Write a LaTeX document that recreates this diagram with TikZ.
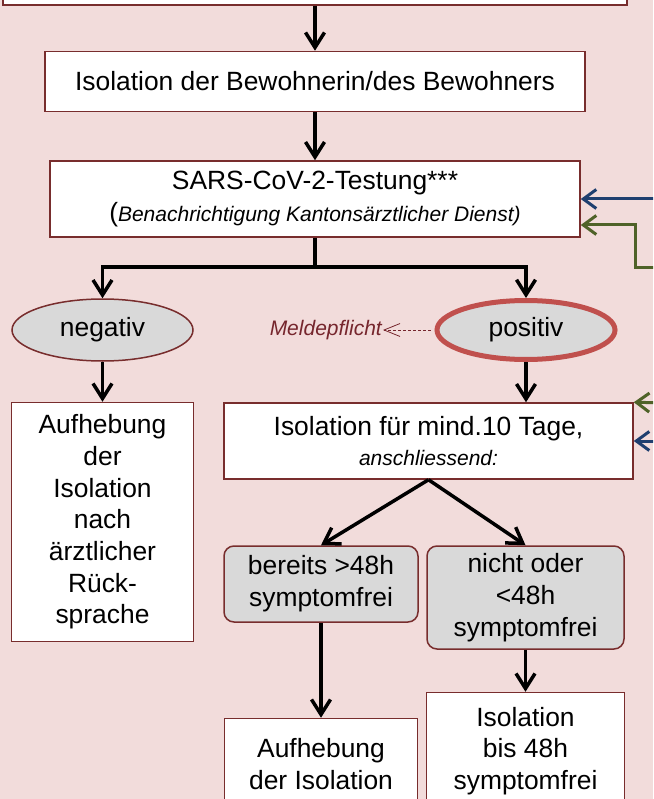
\documentclass[tikz,border=0pt]{standalone}
\usepackage{fontspec}
\setmainfont{Liberation Sans}
\usepackage{tikz}
\usetikzlibrary{positioning}
\usetikzlibrary{arrows.meta}
\usetikzlibrary{shapes.geometric}
\usepackage{color}
\definecolor{Rose-0}{RGB}{242,220,219}
\definecolor{Rose-6}{RGB}{192,80,77}
\definecolor{Rose-8}{RGB}{120,45,45}
\definecolor{Rose-9}{RGB}{118,38,45}
\definecolor{Grey-2}{RGB}{217,217,217}
\definecolor{Navy-8}{RGB}{31,63,111}
\definecolor{Olive-8}{RGB}{79,98,40}

\newcommand{\bigtxt}{\fontsize{26.4pt}{31.7pt}\selectfont}
\newcommand{\smalltxt}{\fontsize{21pt}{25pt}\selectfont}

\begin{document}
\begin{tikzpicture}[x=1pt, y=-1pt]
    \tikzset{ box/.style ={draw=Rose-8, line width=1.5pt, fill=white, font=\bigtxt, align=center, inner sep=0pt} }
    \tikzset{ opt/.style ={draw=Rose-8, line width=1.5pt, fill=Grey-2, rounded corners=10pt, font=\bigtxt, align=center, inner sep=0pt} }
    \tikzset{ res/.style ={draw=Rose-8, line width=1.5pt, fill=Grey-2, ellipse, font=\bigtxt, inner sep=0pt} }
    \tikzset{ flw/.style ={black, line width=3.5pt, -{Straight Barb[length=15pt,width=19pt]}} }
    \tikzset{ blu/.style ={Navy-8, line width=3pt, -{Straight Barb[length=13pt,width=19pt]}} }
    \tikzset{ grn/.style ={Olive-8, line width=3pt, -{Straight Barb[length=13pt,width=19pt]}} }
    \tikzset{ mld/.style ={Rose-9, line width=0.8pt, densely dashed, -{Straight Barb[length=16pt,width=13pt]}} }

    \useasboundingbox (0,0) rectangle (653,799);
    \clip (0,0) rectangle (653,799);
    \fill[Rose-0] (0,0) rectangle (653,799);

    \node[box, minimum width=624pt, minimum height=60pt] (s0) at (315,-25) {};
    \node[box, minimum width=540pt, minimum height=60pt, below=45pt of s0] (s1) {Isolation der Bewohnerin/des Bewohners};
    \node[box, minimum width=530pt, minimum height=76pt, below=48pt of s1] (s2)
        {SARS-CoV-2-Testung***\\{\smalltxt{\bigtxt(}\itshape Benachrichtigung Kantonsärztlicher Dienst)}};

    \node[res, minimum width=181pt, minimum height=62pt] (s3) at (102.5,330) {negativ};
    \node[res, draw=Rose-6, line width=5pt, minimum width=178pt, minimum height=59pt] (s4) at (526,330) {positiv};
    \node[anchor=east, font=\smalltxt\itshape, text=Rose-9, inner sep=1pt] (mp) at (383,330) {Meldepflicht};

    \node[box, minimum width=182pt, minimum height=239pt, below=40pt of s3] (s5)
        {Aufhebung\\der\\Isolation\\nach\\ärztlicher\\Rück-\\sprache};
    \node[box, minimum width=409pt, minimum height=76pt] (s6) at (428.5,441)
        {Isolation für mind.10 Tage,\\[-2pt]{\smalltxt\itshape anschliessend:}};

    \node[opt, minimum width=194pt, minimum height=76pt]  (s7) at (321,584)    {bereits >48h\\symptomfrei};
    \node[opt, minimum width=197pt, minimum height=103pt] (s8) at (525.5,597.5) {nicht oder\\<48h\\symptomfrei};
    \node[box, minimum width=193pt, minimum height=91pt,  below=95pt of s7] (s9)  {Aufhebung\\der Isolation};
    \node[box, minimum width=198pt, minimum height=117pt, below=42pt of s8] (s10) {Isolation\\bis 48h\\symptomfrei};

    \coordinate (sp) at (315,267);
    \coordinate[right=90pt of s2.east] (lp1);
    \coordinate (lp2) at (670,267);
    \coordinate (lp3) at (670,403);
    \coordinate[right=40pt of s6.east] (lp4);

    \draw[flw] (s0) -- (s1);
    \draw[flw] (s1) -- (s2);
    \draw[flw] (s2.south) -- (sp) -| (s3.north);
    \draw[flw] (sp) -| (s4.north);
    \draw[flw] (s3) -- (s5);
    \draw[flw] (s4.south) -- (s4.south |- s6.north);
    \draw[flw] (s6.south) -- (s7.north);
    \draw[flw] (s6.south) -- (s8.north);
    \draw[flw] (s7) -- (s9);
    \draw[flw] (s8) -- (s10);
    \draw[mld] ([xshift=-4pt]s4.west) -- (mp.east);

    \draw[blu] (lp1) -- (s2.east);
    \draw[grn] (lp2) -- ++(-35,0) |- ([yshift=-26pt]s2.east);
    \draw[grn] (lp3) -- (s6.north east);
    \draw[blu] (lp4) -- (s6.east);
\end{tikzpicture}
\end{document}
